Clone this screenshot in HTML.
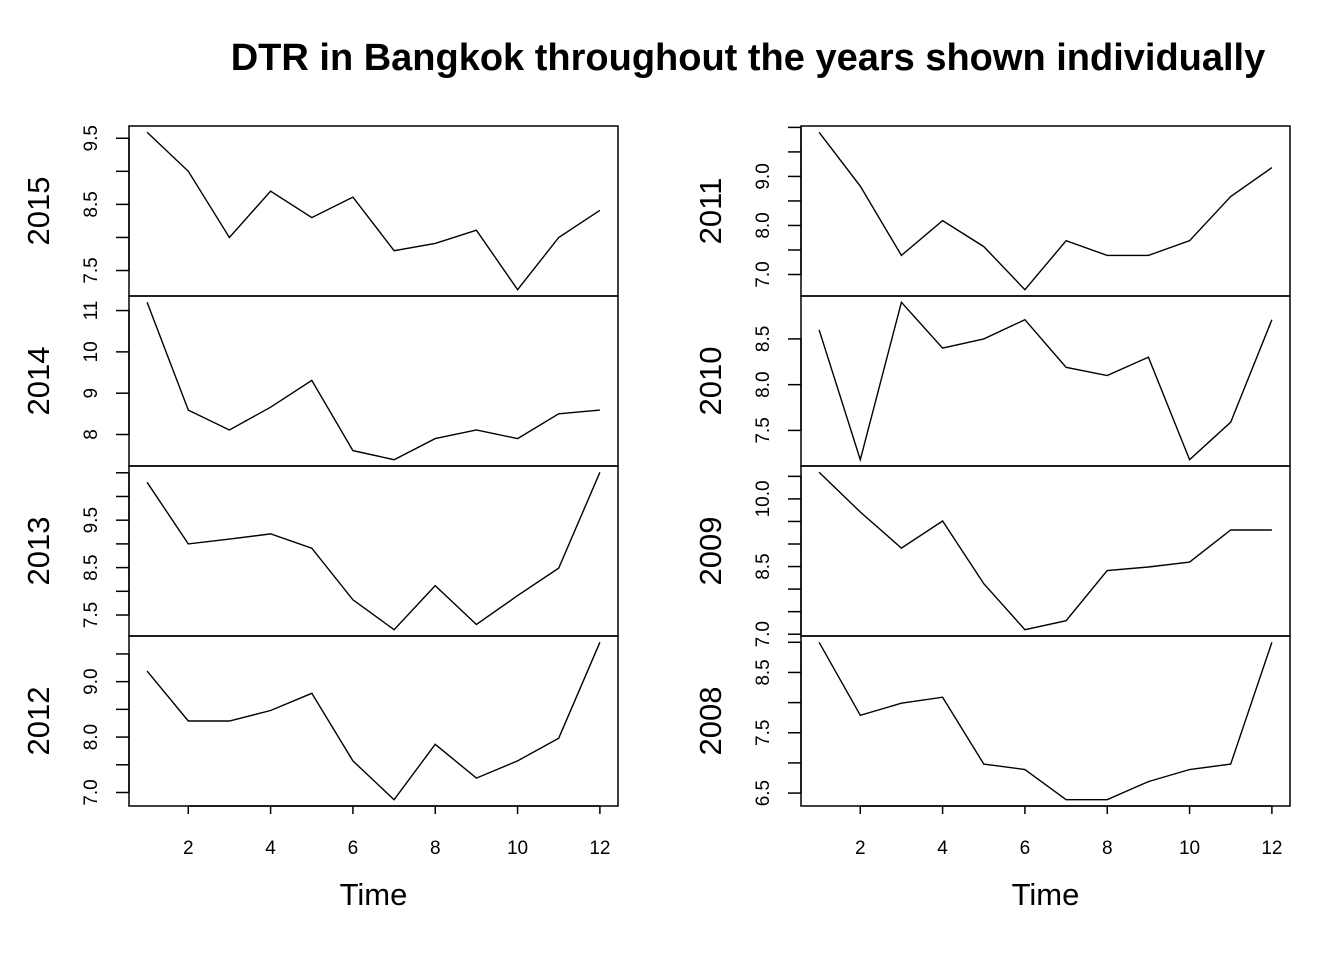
<!DOCTYPE html>
<html><head><meta charset="utf-8"><style>
body{margin:0;background:#fff;}
svg{display:block;font-family:"Liberation Sans",Arial,sans-serif;}
</style></head><body>
<svg id="chart" width="1344" height="960" viewBox="0 0 1344 960">
<rect width="1344" height="960" fill="#fff"/>
<text x="748" y="70" font-size="38" font-weight="bold" text-anchor="middle">DTR in Bangkok throughout the years shown individually</text>
<g id="plots"></g>
</svg>
<script>
const months = [1,2,3,4,5,6,7,8,9,10,11,12];
const years = ["2015","2014","2013","2012","2011","2010","2009","2008"];
const v2015 = [9.59,9.0,8.0,8.7,8.3,8.61,7.8,7.91,8.11,7.21,8.0,8.41];
const v2014 = [11.2,8.59,8.11,8.66,9.31,7.61,7.39,7.9,8.11,7.9,8.5,8.59];
const v2013 = [10.3,9.0,9.1,9.21,8.91,7.82,7.19,8.12,7.3,7.91,8.49,10.51];
const v2012 = [9.19,8.29,8.29,8.48,8.79,7.57,6.87,7.87,7.26,7.57,7.98,9.71];
const v2011 = [9.9,8.8,7.39,8.1,7.57,6.69,7.69,7.39,7.39,7.69,8.59,9.18];
const v2010 = [8.6,7.18,8.9,8.4,8.5,8.71,8.19,8.1,8.3,7.18,7.59,8.71];
const v2009 = [10.59,9.71,8.91,9.51,8.12,7.1,7.3,8.41,8.49,8.6,9.31,9.31];
const v2008 = [9.0,7.79,7.99,8.09,6.98,6.89,6.39,6.39,6.69,6.89,6.98,9.0];
const tickStep = [0.5,1,0.5,0.5,0.5,0.5,0.5,0.5];
const tickLabels = [["7.5","8.5","9.5"],["8","9","10","11"],["7.5","8.5","9.5"],["7.0","8.0","9.0"],["7.0","8.0","9.0"],["7.5","8.0","8.5"],["7.0","8.5","10.0"],["6.5","7.5","8.5"]];
const xTicks = ["2","4","6","8","10","12"];
const series = [v2015,v2014,v2013,v2012,v2011,v2010,v2009,v2008];

const NS="http://www.w3.org/2000/svg";
const g=document.getElementById('plots');
function mk(tag,attrs,parent){const e=document.createElementNS(NS,tag);for(const k in attrs)e.setAttribute(k,attrs[k]);(parent||g).appendChild(e);return e;}
const cols=[{x0:129,x1:618},{x0:801,x1:1290}];
const top0=126, ph=170;
function xScale(c,m){const p=cols[c];const span=p.x1-p.x0;const lo=1-11*0.04, hi=12+11*0.04;return p.x0+(m-lo)/(hi-lo)*span;}

for(let i=0;i<8;i++){
  const c=Math.floor(i/4), r=i%4;
  const y0=top0+r*ph, y1=y0+ph;
  const d=series[i];
  const mn=Math.min(...d), mx=Math.max(...d), ext=(mx-mn)*0.04;
  const lo=mn-ext, hi=mx+ext;
  const yS=v=>y1-(v-lo)/(hi-lo)*ph;
  const p=cols[c];
  const box=mk('rect',{x:p.x0,y:y0,width:p.x1-p.x0,height:ph,fill:'none',stroke:'#000','stroke-width':1.5});
  
  
  const pts=d.map((v,k)=>xScale(c,months[k]).toFixed(1)+','+yS(v).toFixed(1)).join(' ');
  const line=mk('polyline',{points:pts,fill:'none',stroke:'#000','stroke-width':1.4});
  
  
  const st=tickStep[i];
  const tks=[];
  for(let t=Math.ceil(lo/st-1e-9)*st;t<=hi+1e-9;t+=st)tks.push(+t.toFixed(2));
  if(tks.length){mk('line',{x1:p.x0,x2:p.x0,y1:yS(tks[0]),y2:yS(tks[tks.length-1]),stroke:'#000','stroke-width':1.5});}
  tks.forEach(t=>{mk('line',{x1:p.x0-13,x2:p.x0,y1:yS(t),y2:yS(t),stroke:'#000','stroke-width':1.5});});
  tickLabels[i].forEach(lb=>{
    const yy=yS(parseFloat(lb)), xx=p.x0-32;
    const tx=mk('text',{x:xx,y:yy,'font-size':19,'text-anchor':'middle',transform:`rotate(-90 ${xx} ${yy})`});
    
    
    tx.textContent=lb;
  });
  const ly=(y0+y1)/2, lx=p.x0-80;
  const yl=mk('text',{x:lx,y:ly,'font-size':31,'text-anchor':'middle',transform:`rotate(-90 ${lx} ${ly})`});
  
  
  yl.textContent=years[i];
  if(r===3){
    mk('line',{x1:xScale(c,2),x2:xScale(c,12),y1:y1,y2:y1,stroke:'#000','stroke-width':1.5});
    xTicks.forEach(t=>{
      const xx=xScale(c,+t);
      mk('line',{x1:xx,x2:xx,y1:y1,y2:y1+8,stroke:'#000','stroke-width':1.5});
      const tx=mk('text',{x:xx,y:854,'font-size':19,'text-anchor':'middle'});
      
      
      tx.textContent=t;
    });
    const tl=mk('text',{x:(p.x0+p.x1)/2,y:905,'font-size':31,'text-anchor':'middle'});
    
    
    tl.textContent='Time';
  }
}
</script>
</body></html>
